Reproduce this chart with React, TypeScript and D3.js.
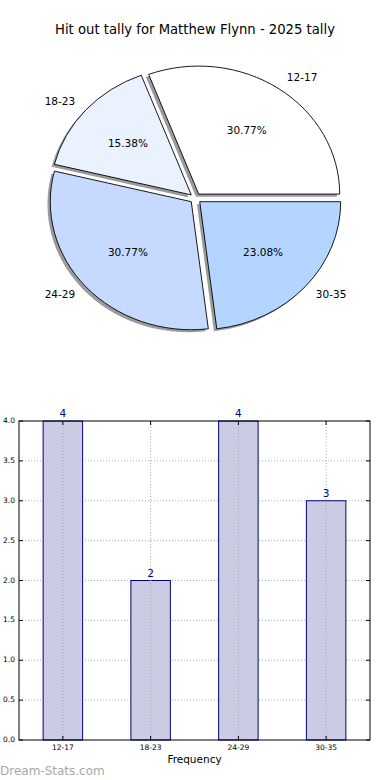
import * as d3 from "d3"

const ageGroups = ["12-17", "18-23", "24-29", "30-35"]
const hitOuts = [4, 2, 4, 3]
const sliceColors = ["#ffffff", "#eaf1ff", "#c6d9ff", "#b4d5ff"]
const yTicks = [0, 0.5, 1, 1.5, 2, 2.5, 3, 3.5, 4]

const W = 390
const H = 780
const PIE = { cx: 195.5, cy: 198.3, rx: 141, ry: 128, explode: 0.04, shadow: 0.02 }
const BAR = { left: 19, right: 370, top: 421, bottom: 740 }
const FONT = "DejaVu Sans, sans-serif"

export default function App() {
  const total = d3.sum(hitOuts)
  // matplotlib style: start at 3 o'clock, go counter-clockwise
  const pieGen = d3.pie<number>().sort(null).startAngle(Math.PI / 2).endAngle(Math.PI / 2 - 2 * Math.PI)
  const slices = pieGen(hitOuts)
  const unitArc = d3.arc<d3.PieArcDatum<number>>().innerRadius(0).outerRadius(1)

  const mid = (d: d3.PieArcDatum<number>) => (d.startAngle + d.endAngle) / 2
  const offset = (d: d3.PieArcDatum<number>, k: number) => {
    const a = mid(d)
    return [PIE.cx + k * PIE.rx * Math.sin(a), PIE.cy - k * PIE.ry * Math.cos(a)]
  }

  const x = d3.scaleLinear().domain([-0.5, ageGroups.length - 0.5]).range([BAR.left, BAR.right])
  const y = d3.scaleLinear().domain([0, 4]).range([BAR.bottom, BAR.top])
  const barW = x(0.45) - x(0)

  return (
    <div style={{ position: "absolute", left: 0, top: 0 }}>
      <svg width={W} height={H} style={{ display: "block", background: "#fff", fontFamily: FONT }}>
        <text x={W / 2} y={30} textAnchor="middle" dominantBaseline="middle" fontSize={13.2}>
          Hit out tally for Matthew Flynn - 2025 tally
        </text>

        {/* shadows */}
        {slices.map((d, i) => {
          const [ox, oy] = offset(d, PIE.explode)
          return (
            <path
              key={"s" + i}
              d={unitArc(d) ?? ""}
              transform={`translate(${ox - PIE.shadow * PIE.rx},${oy + PIE.shadow * PIE.ry}) scale(${PIE.rx},${PIE.ry})`}
              fill="#7a7a7a"
              opacity={0.75}
            />
          )
        })}
        {slices.map((d, i) => {
          const [ox, oy] = offset(d, PIE.explode)
          return (
            <path
              key={"w" + i}
              d={unitArc(d) ?? ""}
              transform={`translate(${ox},${oy}) scale(${PIE.rx},${PIE.ry})`}
              fill={sliceColors[i]}
              stroke="#000"
              strokeWidth={0.9}
              vectorEffect="non-scaling-stroke"
              strokeLinejoin="round"
            />
          )
        })}
        {slices.map((d, i) => {
          const [px, py] = offset(d, 0.6 + PIE.explode)
          const [lx, ly] = offset(d, 1.1 + PIE.explode)
          const a = mid(d)
          return (
            <g key={"l" + i} fontSize={10.5}>
              <text x={px} y={py} textAnchor="middle" dominantBaseline="middle">
                {((hitOuts[i] / total) * 100).toFixed(2)}%
              </text>
              <text x={lx} y={ly} textAnchor={Math.sin(a) > 0 ? "start" : "end"} dominantBaseline="middle">
                {ageGroups[i]}
              </text>
            </g>
          )
        })}

        {/* bar chart */}
        {yTicks.slice(1, -1).map((t) => (
          <line key={"gy" + t} x1={BAR.left} x2={BAR.right} y1={y(t)} y2={y(t)} stroke="#b0b0b0" strokeDasharray="1,2" />
        ))}
        {hitOuts.map((v, i) => (
          <rect
            key={"b" + i}
            x={x(i) - barW / 2}
            y={y(v)}
            width={barW}
            height={y(0) - y(v)}
            fill="#cbcbe4"
            stroke="#000080"
            strokeWidth={1}
          />
        ))}
        {ageGroups.map((g, i) => (
          <line key={"gx" + i} x1={x(i)} x2={x(i)} y1={BAR.top} y2={BAR.bottom} stroke="#a8a8a8" strokeDasharray="1,2" />
        ))}
        {hitOuts.map((v, i) => (
          <text key={"v" + i} x={x(i)} y={y(v) - 4} textAnchor="middle" fontSize={10.5} fill="#000080">
            {v}
          </text>
        ))}
        <rect
          x={BAR.left}
          y={BAR.top}
          width={BAR.right - BAR.left}
          height={BAR.bottom - BAR.top}
          fill="none"
          stroke="#000"
          strokeWidth={1}
        />
        {yTicks.map((t) => (
          <g key={"ty" + t}>
            <line x1={BAR.left} x2={BAR.left + 4} y1={y(t)} y2={y(t)} stroke="#000" />
            <line x1={BAR.right - 4} x2={BAR.right} y1={y(t)} y2={y(t)} stroke="#000" />
            <text x={15} y={y(t)} textAnchor="end" dominantBaseline="middle" fontSize={7.5}>
              {t.toFixed(1)}
            </text>
          </g>
        ))}
        {ageGroups.map((g, i) => (
          <g key={"tx" + i}>
            <line x1={x(i)} x2={x(i)} y1={BAR.bottom - 4} y2={BAR.bottom} stroke="#000" />
            <line x1={x(i)} x2={x(i)} y1={BAR.top} y2={BAR.top + 4} stroke="#000" />
            <text x={x(i)} y={BAR.bottom + 8} textAnchor="middle" dominantBaseline="middle" fontSize={7.5}>
              {g}
            </text>
          </g>
        ))}
        <text x={(BAR.left + BAR.right) / 2} y={760} textAnchor="middle" dominantBaseline="middle" fontSize={10.5}>
          Frequency
        </text>
        <text x={0} y={771} dominantBaseline="middle" fontSize={12} fill="#a8a8a8">
          Dream-Stats.com
        </text>
      </svg>
    </div>
  )
}
